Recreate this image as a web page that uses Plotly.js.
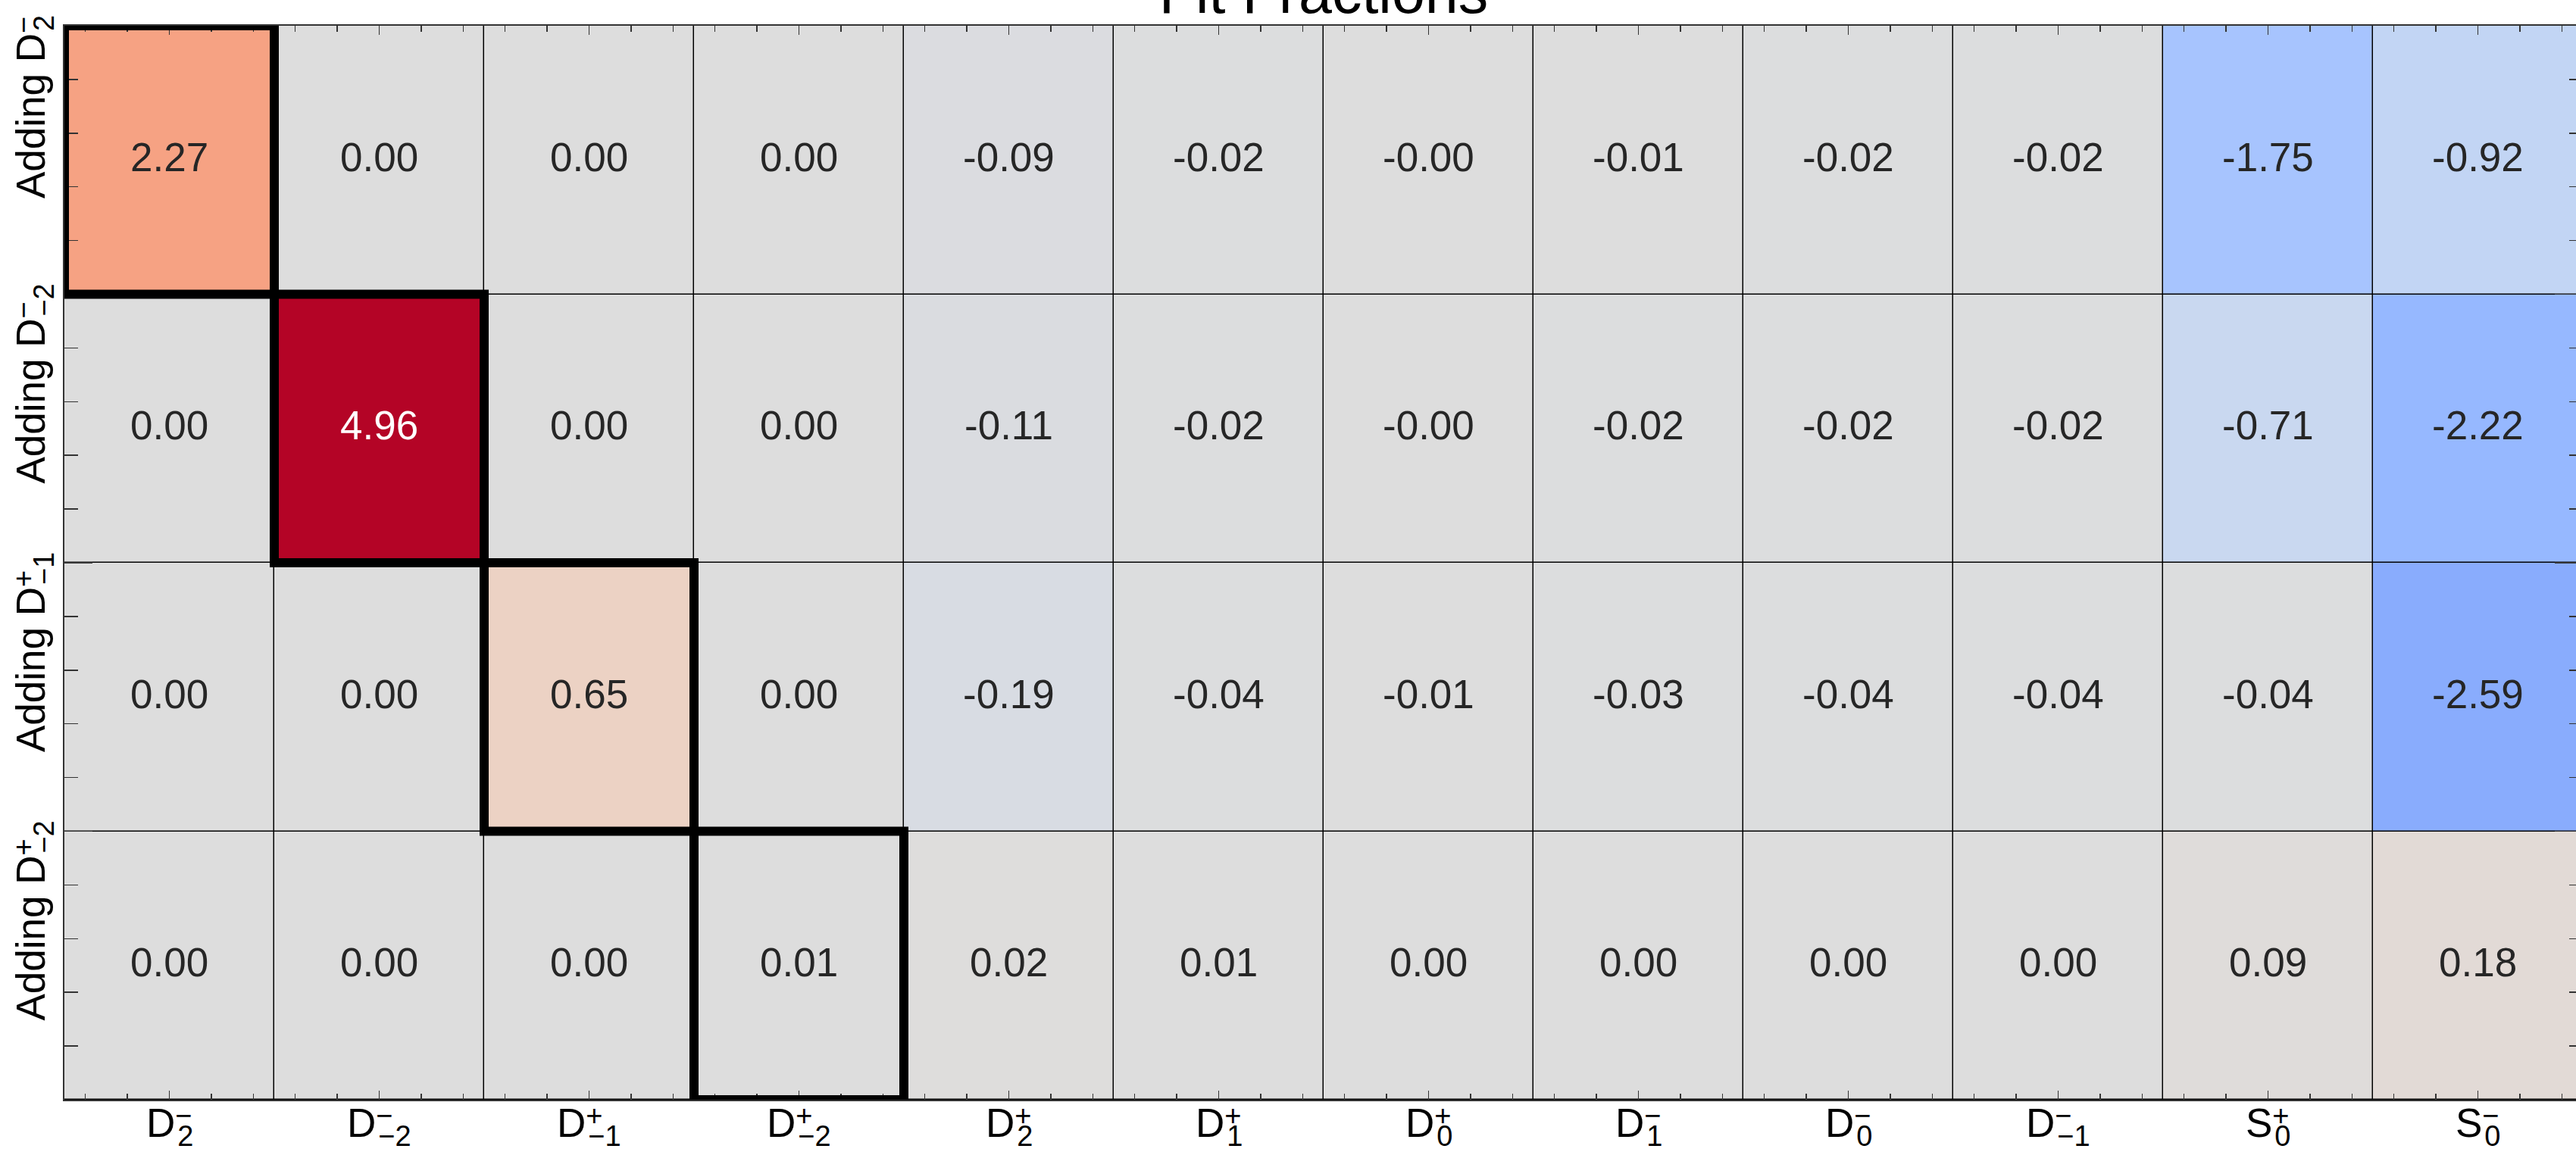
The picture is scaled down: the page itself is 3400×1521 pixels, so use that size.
<!DOCTYPE html>
<html><head><meta charset="utf-8">
<script src="https://cdn.plot.ly/plotly-3.0.1.min.js"></script>
<style>html,body{margin:0;padding:0;overflow:hidden;background:#fff}#chart{width:3420px;height:1521px}</style>
</head><body><div id="chart"></div>
<script>
// ---------- data ----------
const titleText = 'Fit Fractions';
const colBase = ['D','D','D','D','D','D','D','D','D','D','S','S'];
const colSup  = ['\u2212','\u2212','+','+','+','+','+','\u2212','\u2212','\u2212','+','\u2212'];
const colSub  = ['2','\u22122','\u22121','\u22122','2','1','0','1','0','\u22121','0','0'];
const rowPrefix = 'Adding ';
const rowBase = ['D','D','D','D'];
const rowSup  = ['\u2212','\u2212','+','+'];
const rowSub  = ['2','\u22122','\u22121','\u22122'];
const addD2m  = [2.27, 0.00, 0.00, 0.00, -0.09, -0.02, -0.002, -0.01, -0.02, -0.02, -1.75, -0.92];
const addDm2m = [0.00, 4.96, 0.00, 0.00, -0.11, -0.02, -0.002, -0.02, -0.02, -0.02, -0.71, -2.22];
const addDm1p = [0.00, 0.00, 0.65, 0.00, -0.19, -0.04, -0.01, -0.03, -0.04, -0.04, -0.04, -2.59];
const addDm2p = [0.00, 0.00, 0.00, 0.01, 0.02, 0.01, 0.00, 0.00, 0.00, 0.00, 0.09, 0.18];

// ---------- style ----------
const FONT = '"Liberation Sans", Arial, Helvetica, sans-serif';
const coolwarm = [
 [59,76,192],[68,90,204],[77,104,215],[87,117,225],[98,130,234],[108,142,241],[119,154,247],[130,165,251],
 [141,176,254],[152,185,255],[163,194,255],[174,201,253],[184,208,249],[194,213,244],[204,217,238],[213,219,230],
 [221,221,221],[229,216,209],[236,211,197],[241,204,185],[245,196,173],[247,187,160],[247,177,148],[247,166,135],
 [244,154,123],[241,141,111],[236,127,99],[229,112,88],[222,96,77],[213,80,66],[203,62,56],[192,40,47],[180,4,38]];
const colorscale = coolwarm.map((c,i)=>[i/(coolwarm.length-1), `rgb(${c[0]},${c[1]},${c[2]})`]);

const z = [addD2m, addDm2m, addDm1p, addDm2p];
const zAbs = Math.max(...z.flat().map(Math.abs));
const zmin = -zAbs, zmax = zAbs;

function cmap(v){
  let t = (v - zmin)/(zmax - zmin); t = Math.max(0, Math.min(1, t));
  const p = t*(coolwarm.length-1), i = Math.min(Math.floor(p), coolwarm.length-2), f = p - i;
  return coolwarm[i].map((a,k)=>a + (coolwarm[i+1][k]-a)*f);
}
function lum(rgb){
  const l = rgb.map(c=>{c/=255; return c<=0.03928 ? c/12.92 : Math.pow((c+0.055)/1.055, 2.4);});
  return 0.2126*l[0] + 0.7152*l[1] + 0.0722*l[2];
}
const ctx = document.createElement('canvas').getContext('2d');
function tw(s, size){ ctx.font = `${size}px "Liberation Sans"`; return ctx.measureText(s).width; }

const BASE = 53, SCR = 38, CELL = 53, SUPUP = 15, SUBDN = 12;
// base letter with stacked super/subscript, as one text
function mathLabel(prefix, base, sup, sub){
  const ws = tw(sup, SCR);
  return `${prefix}${base}<span style="font-size:${SCR}px;baseline-shift:${SUPUP}px;letter-spacing:-${(ws-3).toFixed(1)}px">${sup}</span>` +
         `<span style="font-size:${SCR}px;baseline-shift:-${SUBDN}px">${sub}</span>`;
}
// distance from label baseline to top of its text box
const topOffset = Math.max(0.905*BASE, SUPUP + 0.905*SCR);
const X_BASELINE_GAP = 48;   // x-label baseline below the plot's bottom edge (px)
const Y_BASELINE_GAP = 27;   // y-label baseline left of the plot's left edge (px)

const xIdx = colBase.map((_,j)=>j), yIdx = z.map((_,i)=>i);
const annotations = [];
// cell values
z.forEach((row,i)=>row.forEach((v,j)=>{
  annotations.push({x:j, y:i, xref:'x', yref:'y', text:v.toFixed(2), showarrow:false,
    font:{family:FONT, size:CELL, color: lum(cmap(v)) > 0.408 ? '#262626' : '#ffffff'},
    xanchor:'center', yanchor:'middle', yshift:4, borderpad:0});
}));
// column labels
colBase.forEach((b,j)=>{
  annotations.push({x:j, xref:'x', y:0, yref:'paper', text:mathLabel('', b, colSup[j], colSub[j]), showarrow:false, borderpad:0,
    font:{family:FONT, size:BASE, color:'#000'}, xanchor:'center', yanchor:'top', yshift:topOffset - X_BASELINE_GAP});
});
// row labels (rotated, end-aligned just above each row's top edge)
rowBase.forEach((b,i)=>{
  annotations.push({x:0, xref:'paper', y:i-0.5, yref:'y', text:mathLabel(rowPrefix, b, rowSup[i], rowSub[i]),
    textangle:-90, showarrow:false, borderpad:0,
    font:{family:FONT, size:BASE, color:'#000'}, xanchor:'left', xshift:-(Y_BASELINE_GAP + topOffset), yanchor:'top', yshift:15});
});

// highlight the component being added in each row
const shapes = [];
rowBase.forEach((b,i)=>{
  const j = colBase.findIndex((cb,k)=>cb===b && colSup[k]===rowSup[i] && colSub[k]===rowSub[i]);
  if (j >= 0) shapes.push({type:'rect', xref:'x', yref:'y', x0:j-0.5, x1:j+0.5, y0:i-0.5, y1:i+0.5,
    line:{color:'#000', width:12}, fillcolor:'rgba(0,0,0,0)', layer:'above'});
});

const trace = {type:'heatmap', z:z, x:xIdx, y:yIdx, colorscale:colorscale, zmin:zmin, zmax:zmax,
  showscale:false, xgap:1.5, ygap:1.5, hoverinfo:'skip'};

const axisCommon = {showgrid:false, zeroline:false, showline:true, mirror:'allticks', linecolor:'#333', linewidth:2,
  ticks:'inside', tickcolor:'#333', tickwidth:1.5, showticklabels:false, tickmode:'linear'};
const layout = {
  width:3420, height:1521, margin:{l:85, r:11, t:34, b:69, pad:0},
  paper_bgcolor:'#fff', plot_bgcolor:'#000', showlegend:false,
  title:{text:titleText, font:{family:FONT, size:79, color:'#000'}, xref:'paper', x:0.5, xanchor:'center',
    yref:'container', y:1-17/1521, yanchor:'bottom', pad:{t:0,b:0,l:0,r:0}},
  xaxis:Object.assign({}, axisCommon, {range:[-0.5, colBase.length-0.5], tick0:0, dtick:1, ticklen:12,
    minor:{ticks:'inside', ticklen:8, tickwidth:1.5, tickcolor:'#333', tickmode:'linear', tick0:0, dtick:0.2, showgrid:false}}),
  yaxis:Object.assign({}, axisCommon, {range:[z.length-0.5, -0.5], tick0:0.5, dtick:1, ticklen:37,
    minor:{ticks:'inside', ticklen:18, tickwidth:1.5, tickcolor:'#333', tickmode:'linear', tick0:0.1, dtick:0.2, showgrid:false}}),
  annotations:annotations, shapes:shapes
};
Plotly.newPlot('chart', [trace], layout, {staticPlot:true, displayModeBar:false});
</script></body></html>
